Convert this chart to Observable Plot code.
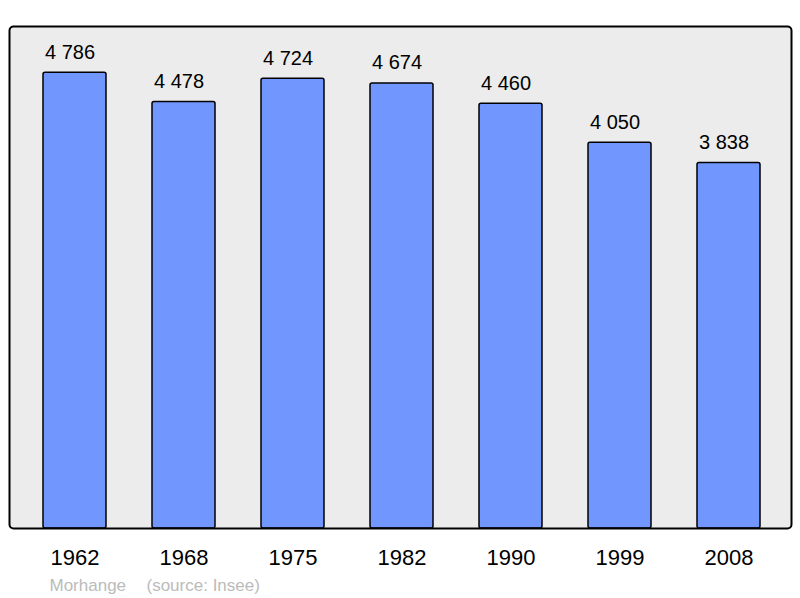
<!DOCTYPE html>
<html>
<head>
<meta charset="utf-8">
<script src="https://cdn.jsdelivr.net/npm/d3@7"></script>
<script src="https://cdn.jsdelivr.net/npm/@observablehq/plot@0.6"></script>
<style>
  html, body { margin: 0; padding: 0; background: #ffffff; }
  #chart svg { display: block; }
</style>
</head>
<body>
<div id="chart"></div>
<script>
const years = ["1962", "1968", "1975", "1982", "1990", "1999", "2008"];
const population = [4786, 4478, 4724, 4674, 4460, 4050, 3838];
const captionParts = ["Morhange", "(source: Insee)"];

const data = years.map((y, i) => ({ year: y, value: population[i] }));
const fmt = v => String(v).replace(/\B(?=(\d{3})+(?!\d))/g, " ");

const chart = Plot.plot({
  width: 800,
  height: 598,
  marginLeft: 9,
  marginRight: 9,
  marginTop: 26,
  marginBottom: 70,
  style: { fontFamily: "'Liberation Sans', Arial, sans-serif", background: "#ffffff" },
  x: { type: "band", domain: years, range: [10.8, 792.9], paddingInner: 0.418, paddingOuter: 0.282, axis: null },
  y: { domain: [0, 5272], axis: null },
  marks: [
    Plot.frame({ fill: "#ececec", stroke: "none", rx: 4 }),
    Plot.barY(data, { x: "year", y: "value", fill: "#7197ff", stroke: "#000000", strokeWidth: 1.5, rx: 2 }),
    Plot.frame({ fill: "none", stroke: "#000000", strokeWidth: 2, rx: 4 }),
    Plot.text(data, { x: "year", y: "value", text: d => fmt(d.value), dx: -5, dy: -14, lineAnchor: "bottom", fontSize: 20, fill: "#000000" }),
    Plot.text(data, { x: "year", text: "year", frameAnchor: "bottom", dy: 36, lineAnchor: "bottom", fontSize: 22, fill: "#000000" }),
    Plot.text([captionParts[0]], { frameAnchor: "bottom-left", dx: 40, dy: 62, lineAnchor: "bottom", textAnchor: "start", fontSize: 17, fill: "#bbbbbb" }),
    Plot.text([captionParts[1]], { frameAnchor: "bottom-left", dx: 137, dy: 62, lineAnchor: "bottom", textAnchor: "start", fontSize: 17, fill: "#bbbbbb" })
  ]
});
document.getElementById("chart").appendChild(chart);
</script>
</body>
</html>
